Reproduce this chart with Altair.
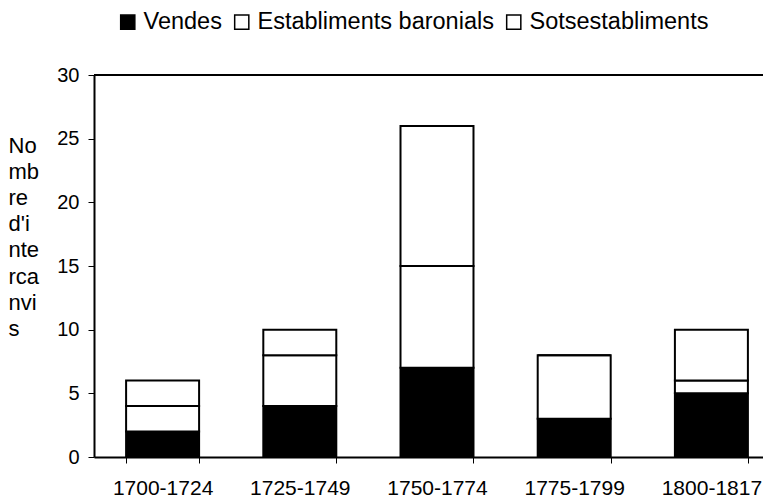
import altair as alt
import pandas as pd

periods = ["1700-1724", "1725-1749", "1750-1774", "1775-1799", "1800-1817"]
series = ["Vendes", "Establiments baronials", "Sotsestabliments"]
vendes = [2, 4, 7, 3, 5]
establiments = [2, 4, 8, 5, 1]
sotsestabliments = [2, 2, 11, 0, 4]
y_ticks = [0, 5, 10, 15, 20, 25, 30]
y_title = ["No", "mb", "re", "d'i", "nte", "rca", "nvi", "s"]

rows = []
for i, p in enumerate(periods):
    for k, (s, vals) in enumerate(zip(series, [vendes, establiments, sotsestabliments])):
        rows.append({"period": p, "series": s, "value": vals[i], "ord": k})
df = pd.DataFrame(rows)

FONT = "Liberation Sans"
STEP_RANGE = 686

bars = alt.Chart(df).mark_bar(stroke="black", strokeWidth=2).encode(
    x=alt.X("period:N", sort=periods,
            scale=alt.Scale(range=[0, STEP_RANGE], paddingInner=0.468, paddingOuter=0.234),
            axis=alt.Axis(title=None, labelAngle=0, tickBand="extent", tickSize=6,
                          tickColor="black", tickWidth=1, domainColor="black", domainWidth=2,
                          labelFontSize=21, labelColor="black", labelPadding=14, labelFont=FONT)),
    y=alt.Y("value:Q", stack="zero",
            scale=alt.Scale(domain=[0, 30], nice=False),
            axis=alt.Axis(values=y_ticks, title=y_title, titleAngle=0, titleAlign="left",
                          titleBaseline="top", titleX=-86, titleY=60, titleLineHeight=26.2,
                          titleFontSize=22, titleFontWeight="normal", titleColor="black",
                          titleFont=FONT, grid=False, tickSize=6, tickColor="black",
                          tickWidth=1, domainColor="black", domainWidth=2,
                          labelFontSize=20, labelColor="black", labelPadding=9, labelFont=FONT)),
    color=alt.Color("series:N", sort=series,
                    scale=alt.Scale(domain=series, range=["black", "white", "white"]),
                    legend=alt.Legend(title=None, orient="none", legendX=22, legendY=-65,
                                      direction="horizontal", symbolType="square",
                                      symbolSize=200, symbolStrokeColor="black",
                                      symbolStrokeWidth=1.5, labelFontSize=23.5,
                                      labelColor="black", labelFont=FONT, labelOffset=4,
                                      columnPadding=8, padding=0, labelLimit=400)),
    order=alt.Order("ord:Q", sort="ascending"),
)

top_line = alt.Chart(pd.DataFrame({"v": [30]})).mark_rule(color="black", strokeWidth=2).encode(
    y=alt.Y("v:Q"),
    x=alt.value(0),
    x2=alt.value(STEP_RANGE),
)

chart = alt.layer(bars, top_line).properties(
    width=669, height=382,
    autosize=alt.AutoSizeParams(type="none"),
    padding={"left": 86, "top": 67, "right": 0, "bottom": 43},
).configure_view(stroke=None).configure(font=FONT)

chart.save("out.html", embed_options={"renderer": "svg", "actions": False})
